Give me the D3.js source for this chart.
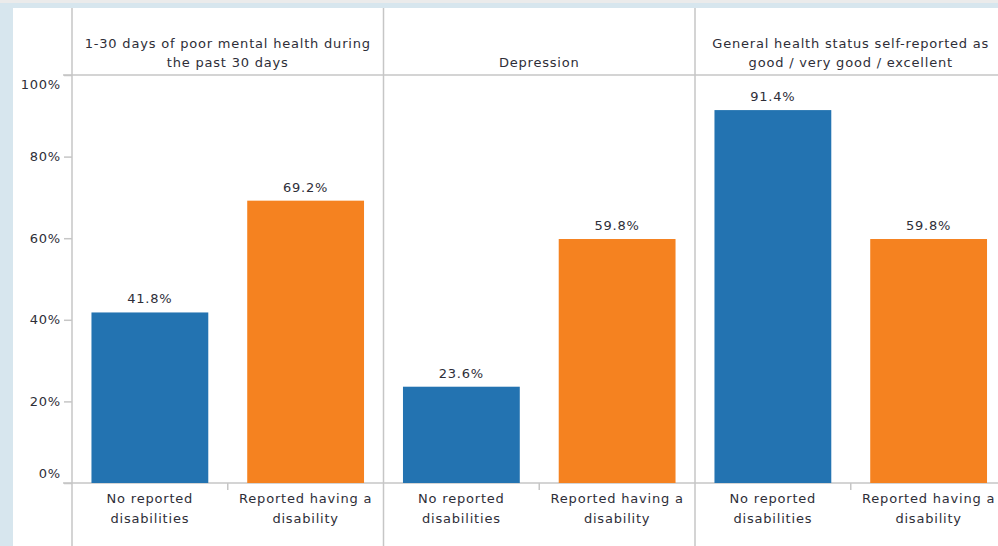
<!DOCTYPE html>
<html><head><meta charset="utf-8">
<script src="https://cdn.jsdelivr.net/npm/d3@7"></script>
<style>
html,body{margin:0;padding:0;background:#d7e6ee;}
svg{display:block;}
text{font-family:"DejaVu Sans",sans-serif;fill:#2e2e38;font-size:13px;letter-spacing:0.8px;}
</style></head><body>
<svg id="c" width="998" height="546"></svg>
<script>
const panels = ["1-30 days of poor mental health during|the past 30 days", "Depression", "General health status self-reported as|good / very good / excellent"];
const categories = ["No reported|disabilities", "Reported having a|disability"];
const noDisability = [41.8, 23.6, 91.4];
const withDisability = [69.2, 59.8, 59.8];
const yTicks = [0, 20, 40, 60, 80, 100];
const colors = ["#2373b1", "#f58220"];

(function(){
const svg = d3.select("#c");
const W = 998, H = 546;
svg.append("rect").attr("x",0).attr("y",0).attr("width",W).attr("height",H).attr("fill","#d7e6ee");
svg.append("rect").attr("x",0).attr("y",0).attr("width",W).attr("height",3).attr("fill","#ebebeb");
svg.append("rect").attr("x",13).attr("y",8).attr("width",W-13).attr("height",H-8).attr("fill","#fff");

const plotLeft = 72, plotTop = 75, plotBottom = 483;
const panelW = 311.5;
const xPanel = d3.scaleBand().domain(d3.range(panels.length)).range([plotLeft, plotLeft + panelW*panels.length]);
const xCat = d3.scaleBand().domain(d3.range(categories.length)).range([0, xPanel.bandwidth()]).paddingInner(0.25).paddingOuter(0.125);
const y = d3.scaleLinear().domain([0, 100]).range([plotBottom, plotTop]);

const lineColor = "#c6c6c6";
svg.append("line").attr("x1",63).attr("x2",W).attr("y1",plotTop).attr("y2",plotTop).attr("stroke",lineColor).attr("stroke-width",1.5);
svg.append("line").attr("x1",63).attr("x2",W).attr("y1",plotBottom).attr("y2",plotBottom).attr("stroke",lineColor).attr("stroke-width",1.5);
panels.forEach((p,i)=>{
  const x = xPanel(i);
  svg.append("line").attr("x1",x).attr("x2",x).attr("y1",8).attr("y2",H).attr("stroke",lineColor).attr("stroke-width",1.5);
});

const yAxis = d3.axisLeft(y).tickValues(yTicks).tickFormat(d=>d+"%").tickSize(8).tickPadding(3);
const gy = svg.append("g").attr("transform",`translate(${plotLeft},0)`).call(yAxis);
gy.select(".domain").remove();
gy.selectAll(".tick line").attr("stroke",lineColor).attr("stroke-width",1.5);
gy.selectAll(".tick text").style("font-family","DejaVu Sans").style("font-size","13px").attr("fill","#2e2e38")
  .attr("dy", d => d===100 ? "1.05em" : d===0 ? "-0.45em" : "0.32em");

panels.forEach((p,i)=>{
  const g = svg.append("g").attr("transform",`translate(${xPanel(i)},0)`);
  const lines = p.split("|");
  const cx = xPanel.bandwidth()/2;
  lines.forEach((l,j)=>{
    g.append("text").attr("x",cx).attr("y", plotTop - 8 - (lines.length-1-j)*19)
     .attr("text-anchor","middle").text(l);
  });
  const vals = [noDisability[i], withDisability[i]];
  vals.forEach((v,k)=>{
    g.append("rect").attr("x",xCat(k)).attr("y",y(v)).attr("width",xCat.bandwidth()).attr("height",y(0)-y(v)).attr("fill",colors[k]);
    g.append("text").attr("x",xCat(k)+xCat.bandwidth()/2).attr("y",y(v)-9).attr("text-anchor","middle")
     .text(v.toFixed(1)+"%");
  });
  const mid = xPanel.bandwidth()/2;
  g.append("line").attr("x1",mid).attr("x2",mid).attr("y1",plotBottom).attr("y2",plotBottom+7).attr("stroke",lineColor).attr("stroke-width",1.5);
  categories.forEach((c,k)=>{
    c.split("|").forEach((l,j)=>{
      g.append("text").attr("x",xCat(k)+xCat.bandwidth()/2).attr("y",plotBottom+20+j*20)
       .attr("text-anchor","middle").text(l);
    });
  });
});
})();
</script>
</body></html>
